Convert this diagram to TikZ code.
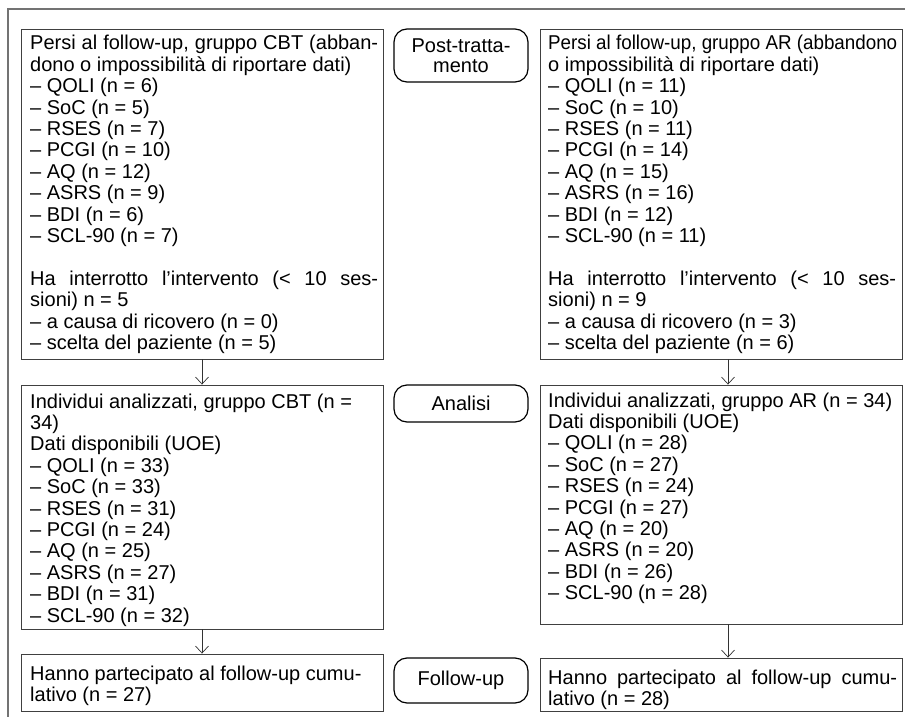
\documentclass[tikz,border=0pt]{standalone}
\usepackage{fontspec}
\setmainfont{Liberation Sans}
\usepackage{graphicx}
\usetikzlibrary{arrows.meta}
\begin{document}
\begin{tikzpicture}[x=1pt,y=-1pt,
  box/.style={draw=black!75, line width=0.9pt, minimum width=362pt, inner sep=0pt},
  lbl/.style={rounded corners=13pt, draw=black, line width=1.2pt, minimum width=134pt,
    align=center, inner sep=0pt, font=\fontsize{20}{20.5}\selectfont},
  txt/.style={anchor=base west, inner sep=0pt, font=\fontsize{20}{21.4}\selectfont},
  arr/.style={-{Straight Barb[length=7pt,width=13pt]}, line width=0.7pt, draw=black!80},
  frame/.style={draw=black!55, line width=1.4pt}]
\useasboundingbox (0,0) rectangle (905,717);
% outer frame (cropped)
\coordinate (fa) at (8,717);
\coordinate (fb) at (8,9);
\coordinate (fc) at (905,9);
\draw[frame] (fa) -- (fb) -- (fc);

% boxes
\node[box, minimum height=330pt] (L1) at (202,194) {};
\node[box, minimum height=330pt] (R1) at (721,194) {};
\node[box, minimum height=244pt] (L2) at (202,507) {};
\node[box, minimum height=239pt] (R2) at (721,504.5) {};
\node[box, minimum height=57pt] (L3) at (202,682.5) {};
\node[box, minimum height=53pt] (R3) at (721,684.5) {};

% stage labels
\node[lbl, minimum height=53pt] (post) at (461,55.5) {Post-tratta-\\mento};
\node[lbl, minimum height=37pt] (anal) at (461,403.5) {Analisi};
\node[lbl, minimum height=45pt] (fup) at (461,680.5) {Follow-up};

% texts
\node[txt] (tL1) at (30,50) {\parbox[t]{360pt}{\raggedright
\makebox[348pt][s]{Persi al follow-up, gruppo CBT (abban-}\\
dono o impossibilità di riportare dati)\\
– QOLI (n = 6)\\
– SoC (n = 5)\\
– RSES (n = 7)\\
– PCGI (n = 10)\\
– AQ (n = 12)\\
– ASRS (n = 9)\\
– BDI (n = 6)\\
– SCL-90 (n = 7)\\[21.4pt]
\makebox[348pt][s]{Ha interrotto l’intervento (< 10 ses-}\\
sioni) n = 5\\
– a causa di ricovero (n = 0)\\
– scelta del paziente (n = 5)}};

\node[txt] (tR1) at (548,50) {\parbox[t]{352pt}{\raggedright
\scalebox{0.94}[1]{Persi al follow-up, gruppo AR (abbandono}\\
o impossibilità di riportare dati)\\
– QOLI (n = 11)\\
– SoC (n = 10)\\
– RSES (n = 11)\\
– PCGI (n = 14)\\
– AQ (n = 15)\\
– ASRS (n = 16)\\
– BDI (n = 12)\\
– SCL-90 (n = 11)\\[21.4pt]
\makebox[348pt][s]{Ha interrotto l’intervento (< 10 ses-}\\
sioni) n = 9\\
– a causa di ricovero (n = 3)\\
– scelta del paziente (n = 6)}};

\node[txt] (tL2) at (30,408) {\parbox[t]{360pt}{\raggedright
Individui analizzati, gruppo CBT (n =\\
34)\\
Dati disponibili (UOE)\\
– QOLI (n = 33)\\
– SoC (n = 33)\\
– RSES (n = 31)\\
– PCGI (n = 24)\\
– AQ (n = 25)\\
– ASRS (n = 27)\\
– BDI (n = 31)\\
– SCL-90 (n = 32)}};

\node[txt] (tR2) at (548,407) {\parbox[t]{352pt}{\raggedright
Individui analizzati, gruppo AR (n = 34)\\
Dati disponibili (UOE)\\
– QOLI (n = 28)\\
– SoC (n = 27)\\
– RSES (n = 24)\\
– PCGI (n = 27)\\
– AQ (n = 20)\\
– ASRS (n = 20)\\
– BDI (n = 26)\\
– SCL-90 (n = 28)}};

\node[txt] (tL3) at (30,680) {\parbox[t]{360pt}{\raggedright
Hanno partecipato al follow-up cumu-\\
lativo (n = 27)}};

\node[txt] (tR3) at (548,684) {\parbox[t]{352pt}{\raggedright
\makebox[349pt][s]{Hanno partecipato al follow-up cumu-}\\
lativo (n = 28)}};

% connectors
\draw[arr] (L1.south) -- (L2.north);
\draw[arr] (L2.south) -- (L3.north);
\draw[arr] ([xshift=7pt]R1.south) -- ([xshift=7pt]R2.north);
\draw[arr] ([xshift=7pt]R2.south) -- ([xshift=7pt]R3.north);
\end{tikzpicture}
\end{document}
